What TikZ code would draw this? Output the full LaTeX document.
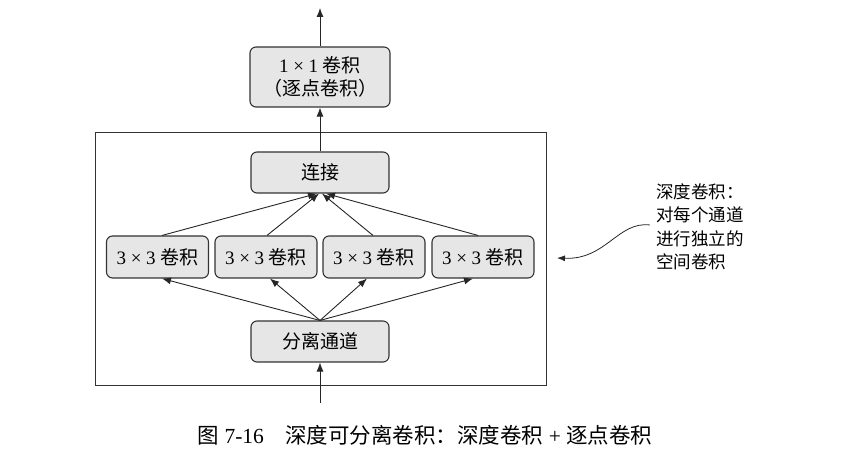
\documentclass[tikz,border=0pt]{standalone}
\usepackage{fontspec}
\setmainfont{Liberation Serif}
\newfontfamily\cjk{Noto Sans CJK SC}
\usetikzlibrary{arrows.meta,calc}
\definecolor{boxfill}{HTML}{E6E6E6}
\definecolor{lin}{HTML}{333333}
\tikzset{
  opbox/.style={draw=lin, line width=1.1pt, fill=boxfill, rounded corners=6pt,
    inner sep=0pt, align=center, font=\fontsize{19}{23}\selectfont},
  conn/.style={draw=black!85, line width=0.9pt, -{Latex[length=9pt,width=7pt]}}
}
\begin{document}
\begin{tikzpicture}[x=1pt,y=-1pt]
\useasboundingbox (0,0) rectangle (849,454);
% outer frame
\draw[lin, line width=0.9pt] (95,132) rectangle (546,385);
% boxes
\node[opbox, minimum width=140pt, minimum height=60pt] (pw) at (320,77) {1 × 1 {\cjk 卷积}\\{\cjk （逐点卷积）}};
\node[opbox, minimum width=138pt, minimum height=41pt] (cat) at (320,172.5) {\cjk 连接};
\node[opbox, minimum width=102pt, minimum height=42pt] (b1) at (157.5,257) {3 × 3 {\cjk 卷积}};
\node[opbox, minimum width=102pt, minimum height=42pt] (b2) at (266,257) {3 × 3 {\cjk 卷积}};
\node[opbox, minimum width=102pt, minimum height=42pt] (b3) at (374,257) {3 × 3 {\cjk 卷积}};
\node[opbox, minimum width=102pt, minimum height=42pt] (b4) at (483,257) {3 × 3 {\cjk 卷积}};
\node[opbox, minimum width=138pt, minimum height=41pt] (sp) at (320,341.5) {\cjk 分离通道};
\coordinate (top) at (320,8);
\coordinate (inp) at (320,403);
% connectors
\draw[conn] (inp) -- (sp.south);
\draw[conn] (sp.north) -- ($(b1.south)+(4.5,0)$);
\draw[conn] (sp.north) -- ($(b2.south)+(4,0)$);
\draw[conn] (sp.north) -- ($(b3.south)+(-7,0)$);
\draw[conn] (sp.north) -- ($(b4.south)+(-10,0)$);
\draw[conn] ($(b1.north)+(4.5,0)$) -- ($(cat.south)+(-3,0)$);
\draw[conn] ($(b2.north)+(1,0)$) -- ($(cat.south)+(-1,0)$);
\draw[conn] ($(b3.north)+(-1,0)$) -- ($(cat.south)+(2,0)$);
\draw[conn] ($(b4.north)+(-5,0)$) -- ($(cat.south)+(6,0)$);
\draw[conn] (cat.north) -- (pw.south);
\draw[conn] (pw.north) -- (top);
% annotation
\node[anchor=west, align=left, inner sep=0pt, font=\cjk\fontsize{17.5}{23.5}\selectfont] (note) at (656,227)
  {深度卷积：\\对每个通道\\进行独立的\\空间卷积};
\coordinate (noteend) at (557,258);
\draw[draw=black!85, line width=0.8pt, -{Latex[length=8pt,width=6pt]}]
  ($(note.west)+(-6,-2)$) .. controls (618,221) and (606,260) .. (noteend);
% caption
\node[inner sep=0pt, font=\fontsize{21.5}{25}\selectfont] (cap) at (425,435)
  {{\cjk 图} 7-16\hspace{1em}{\cjk 深度可分离卷积：深度卷积} + {\cjk 逐点卷积}};
\end{tikzpicture}
\end{document}
